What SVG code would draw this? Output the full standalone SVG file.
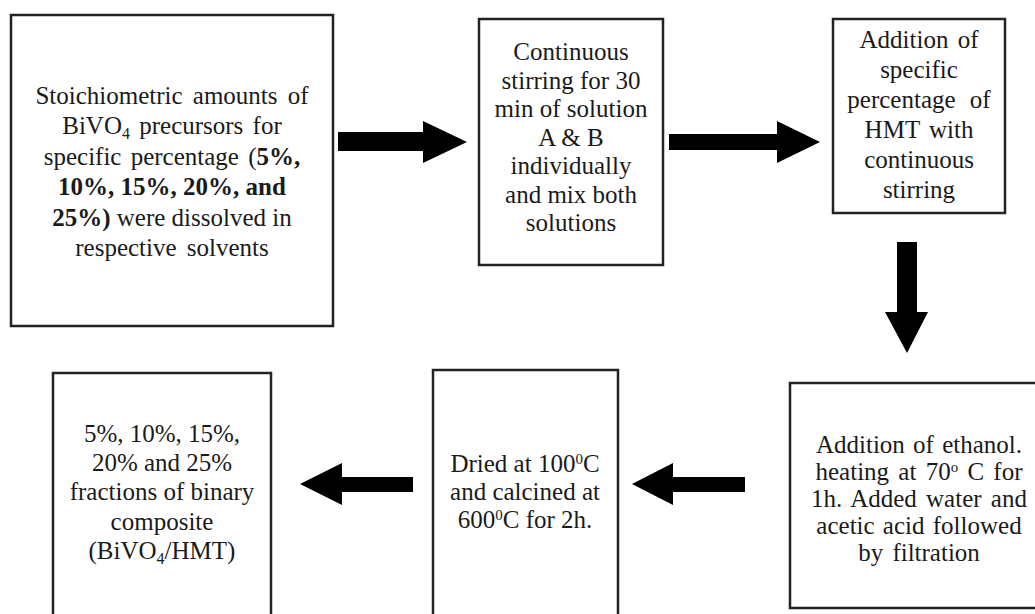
<svg xmlns="http://www.w3.org/2000/svg" width="1035" height="614" viewBox="0 0 1035 614">
<defs>
<style>
.box{fill:#ffffff;stroke:#222222;stroke-width:2.5}
.t{font-family:"Liberation Serif","Times New Roman",serif;font-size:25px;fill:#1a1a1a;text-anchor:middle}
.b{font-weight:bold}
.arrow{fill:#000000}
</style>
</defs>
<rect x="0" y="0" width="1035" height="614" fill="#ffffff"/>
<g id="node1">
<rect class="box" x="11" y="15" width="322" height="311"/>
<text class="t" x="172" y="104" word-spacing="4">Stoichiometric amounts of</text>
<text class="t" x="172" y="134" word-spacing="3">BiVO<tspan font-size="16" baseline-shift="-5">4</tspan> precursors for</text>
<text class="t" x="172" y="165" word-spacing="3">specific percentage (<tspan class="b">5%,</tspan></text>
<text class="t b" x="172" y="195">10%, 15%, 20%, and</text>
<text class="t" x="172" y="226"><tspan class="b">25%)</tspan> were dissolved in</text>
<text class="t" x="172" y="256" word-spacing="4">respective solvents</text>
</g>
<g id="node2">
<rect class="box" x="479" y="19" width="184" height="246"/>
<text class="t" x="571" y="60">Continuous</text>
<text class="t" x="571" y="88.5">stirring for 30</text>
<text class="t" x="571" y="117">min of solution</text>
<text class="t" x="571" y="145.5">A &amp; B</text>
<text class="t" x="571" y="174">individually</text>
<text class="t" x="571" y="202.5">and mix both</text>
<text class="t" x="571" y="231">solutions</text>
</g>
<g id="node3">
<rect class="box" x="833" y="19" width="172" height="194"/>
<text class="t" x="919" y="48" word-spacing="3">Addition of</text>
<text class="t" x="919" y="78">specific</text>
<text class="t" x="919" y="108" word-spacing="8">percentage of</text>
<text class="t" x="919" y="138" word-spacing="3">HMT with</text>
<text class="t" x="919" y="168">continuous</text>
<text class="t" x="919" y="198">stirring</text>
</g>
<g id="node4">
<rect class="box" x="790" y="383" width="260" height="225"/>
<text class="t" x="919" y="453" word-spacing="2">Addition of ethanol.</text>
<text class="t" x="919" y="480" word-spacing="3">heating at 70<tspan font-size="15" baseline-shift="super">o</tspan> C for</text>
<text class="t" x="919" y="507" word-spacing="3">1h. Added water and</text>
<text class="t" x="919" y="534" word-spacing="2">acetic acid followed</text>
<text class="t" x="919" y="561" word-spacing="3">by filtration</text>
</g>
<g id="node5">
<rect class="box" x="433" y="370" width="185" height="260"/>
<text class="t" x="525" y="472">Dried at 100<tspan font-size="15" baseline-shift="super">0</tspan>C</text>
<text class="t" x="525" y="500">and calcined at</text>
<text class="t" x="525" y="528">600<tspan font-size="15" baseline-shift="super">0</tspan>C for 2h.</text>
</g>
<g id="node6">
<rect class="box" x="53" y="373" width="218" height="260"/>
<text class="t" x="162" y="442">5%, 10%, 15%,</text>
<text class="t" x="162" y="471">20% and 25%</text>
<text class="t" x="162" y="500">fractions of binary</text>
<text class="t" x="162" y="530">composite</text>
<text class="t" x="162" y="559">(BiVO<tspan font-size="16" baseline-shift="-5">4</tspan>/HMT)</text>
</g>
<g id="connectors">
<polygon class="arrow" points="338,132 423,132 423,121 467,142 423,163 423,151 338,151"/>
<polygon class="arrow" points="669,134 777,134 777,121 820,142 777,163 777,150 669,150"/>
<polygon class="arrow" points="897,242 917,242 917,312 928,312 907,353 885,312 897,312"/>
<polygon class="arrow" points="745,477 673,477 673,463 632,484 673,505 673,492 745,492"/>
<polygon class="arrow" points="413,477 342,477 342,463 300,484 342,505 342,492 413,492"/>
</g>
</svg>
